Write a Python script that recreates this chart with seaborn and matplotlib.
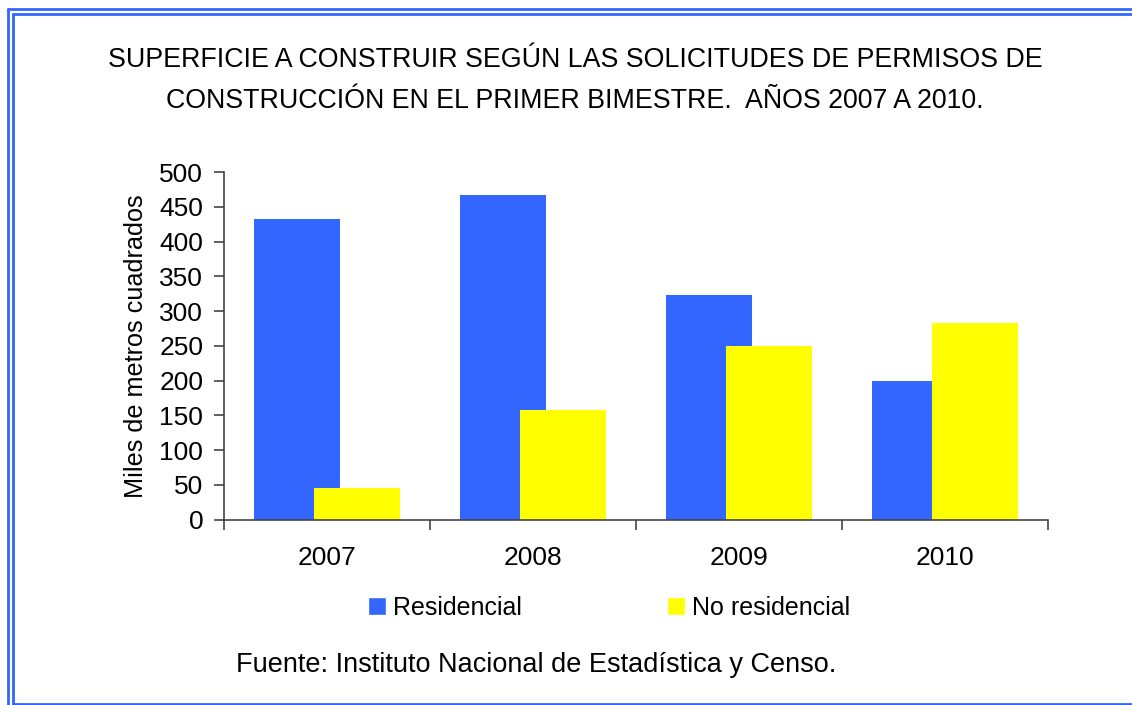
import matplotlib
matplotlib.use("Agg")
import matplotlib.pyplot as plt
import seaborn as sns
import pandas as pd
from matplotlib.lines import Line2D

years = ["2007", "2008", "2009", "2010"]
residencial = [432, 467, 323, 200]
no_residencial = [45, 158, 250, 283]
series_names = ["Residencial", "No residencial"]
colors = ["#3366FF", "#FFFF00"]
yticks = [0, 50, 100, 150, 200, 250, 300, 350, 400, 450, 500]

df = pd.DataFrame({
    "year": years * 2,
    "value": residencial + no_residencial,
    "serie": [series_names[0]] * 4 + [series_names[1]] * 4,
})

sns.set_theme(style="white")
plt.rcParams["font.family"] = ["Liberation Sans", "DejaVu Sans"]
plt.rcParams["text.color"] = "black"
plt.rcParams["axes.labelcolor"] = "black"
plt.rcParams["xtick.color"] = "black"
plt.rcParams["ytick.color"] = "black"

fig = plt.figure(figsize=(11.32, 7.05), dpi=100)
ax = fig.add_axes([0.1979, 0.2631, 0.7279, 0.4929])

sns.barplot(data=df, x="year", y="value", hue="serie", palette=colors,
            order=years, hue_order=series_names, width=0.834, dodge=True,
            saturation=1, ax=ax, legend=True)

# overlap the bars toward the category centre (Excel overlap style)
for i, cont in enumerate(ax.containers):
    shift = 0.0625 if i == 0 else -0.0625
    for p in cont.patches:
        p.set_x(p.get_x() + shift)
        p.set_linewidth(0)

ax.set_ylim(0, 500)
ax.set_xlim(-0.5, 3.5)
ax.set_yticks(yticks)
ax.set_yticklabels([str(v) for v in yticks])
ax.set_xticks([-0.5, 0.5, 1.5, 2.5, 3.5])
ax.set_xticklabels([])
ax.set_xticks(range(len(years)), minor=True)
ax.set_xticklabels(years, minor=True)
ax.tick_params(axis="x", which="major", length=7, width=1.2, color="#444444", direction="out", bottom=True)
ax.tick_params(axis="x", which="minor", length=0, pad=19, labelsize=19, labelcolor="black")
ax.tick_params(axis="y", length=7, width=1.2, color="#444444", direction="out", left=True, pad=8,
               labelsize=19, labelcolor="black")
for s in ["top", "right"]:
    ax.spines[s].set_visible(False)
for s in ["left", "bottom"]:
    ax.spines[s].set_color("#444444")
    ax.spines[s].set_linewidth(1.2)
ax.set_xlabel("")
ax.set_ylabel("Miles de metros cuadrados", fontsize=18.2, labelpad=8, color="black")

handles, labels = ax.get_legend_handles_labels()
ax.get_legend().remove()
fig.legend(handles, labels, loc="center", bbox_to_anchor=(0.538, 0.1375),
           ncol=2, frameon=False, fontsize=18, handlelength=0.72,
           handleheight=0.72, handletextpad=0.3, columnspacing=5.8)

fig.text(0.508, 0.915, "SUPERFICIE A CONSTRUIR SEGÚN LAS SOLICITUDES DE PERMISOS DE",
         ha="center", va="center", fontsize=19.3, color="black")
fig.text(0.508, 0.857, "CONSTRUCCIÓN EN EL PRIMER BIMESTRE.  AÑOS 2007 A 2010.",
         ha="center", va="center", fontsize=19.3, color="black")
fig.text(0.474, 0.057, "Fuente: Instituto Nacional de Estadística y Censo.",
         ha="center", va="center", fontsize=19.5, color="black")

# double blue frame (cropped on the right)
bc = "#3366FF"
W, H = 1132, 705
def fl(x0, y0, x1, y1):
    fig.add_artist(Line2D([x0 / W, x1 / W], [1 - y0 / H, 1 - y1 / H],
                          color=bc, linewidth=2.0, transform=fig.transFigure))
fl(7.5, 8.5, W, 8.5)
fl(12.5, 14, W, 14)
fl(7.5, 8.5, 7.5, H)
fl(12.5, 14, 12.5, 703.5)
fl(12.5, 703.5, W, 703.5)

fig.savefig("out.png", dpi=100)
